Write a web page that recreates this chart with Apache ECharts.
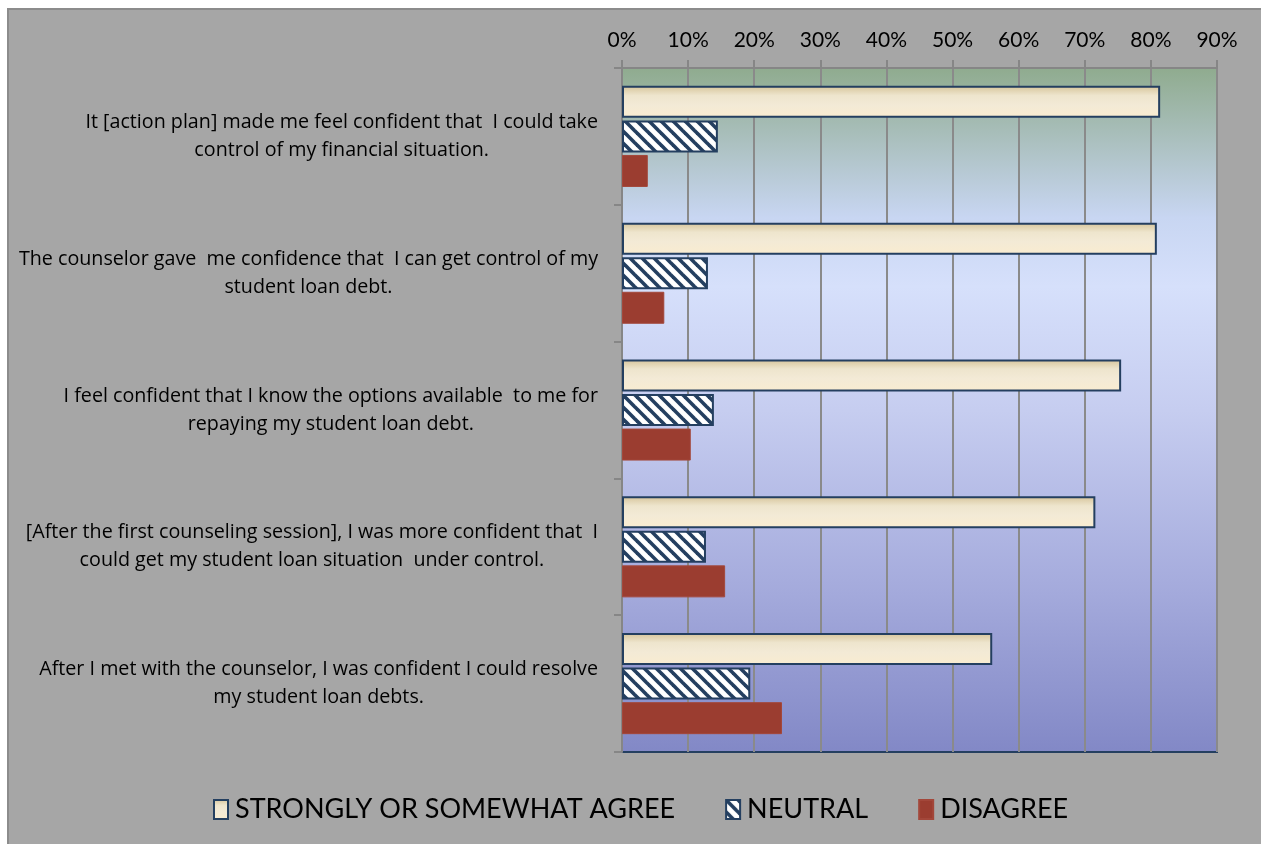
<!DOCTYPE html>
<html>
<head>
<meta charset="utf-8">
<script src="https://cdn.jsdelivr.net/npm/echarts@6/dist/echarts.min.js"></script>
<style>
html,body{margin:0;padding:0;background:#fff;}
#chart{width:1261px;height:844px;}
</style>
</head>
<body>
<div id="chart"></div>
<script>
const categories = [
  "It [action plan] made me feel confident that  I could take\ncontrol of my financial situation.",
  "The counselor gave  me confidence that  I can get control of my\nstudent loan debt.",
  "I feel confident that I know the options available  to me for\nrepaying my student loan debt.",
  "[After the first counseling session], I was more confident that  I\ncould get my student loan situation  under control.",
  "After I met with the counselor, I was confident I could resolve\nmy student loan debts."
];
const seriesNames = ["STRONGLY OR SOMEWHAT AGREE", "NEUTRAL", "DISAGREE"];
const agreeValues = [81.4, 80.9, 75.5, 71.6, 56.0];
const neutralValues = [14.5, 13.0, 13.9, 12.7, 19.4];
const disagreeValues = [3.9, 6.4, 10.4, 15.6, 24.2];
const tickValues = [0, 10, 20, 30, 40, 50, 60, 70, 80, 90];

const FONT = 'Lato';
const LABEL_FONT = 'Open Sans';
const NAVY = '#243f60';

// hatch pattern
const pc = document.createElement('canvas');
pc.width = 12; pc.height = 12;
const g = pc.getContext('2d');
g.fillStyle = '#ffffff'; g.fillRect(0, 0, 12, 12);
g.strokeStyle = NAVY; g.lineWidth = 3.6;
for (const off of [-12, 0, 12]) {
  g.beginPath(); g.moveTo(off - 2, -2); g.lineTo(off + 14, 14); g.stroke();
}

const chart = echarts.init(document.getElementById('chart'));
chart.setOption({
  backgroundColor: '#ffffff',
  animation: false,
  graphic: [{
    type: 'rect', z: -10, silent: true,
    shape: { x: 8, y: 9, width: 1260, height: 840 },
    style: { fill: '#a6a6a6', stroke: '#8c8c8c', lineWidth: 2 }
  }],
  grid: {
    left: 622, right: 44, top: 68, bottom: 92,
    show: true,
    borderColor: NAVY, borderWidth: 2,
    backgroundColor: {
      type: 'linear', x: 0, y: 0, x2: 0, y2: 1,
      colorStops: [
        { offset: 0, color: '#8fab8e' },
        { offset: 0.22, color: '#c8d6f2' },
        { offset: 0.32, color: '#d6e0fb' },
        { offset: 0.5, color: '#c6cdf0' },
        { offset: 0.75, color: '#a6acdd' },
        { offset: 1, color: '#8288c6' }
      ]
    }
  },
  legend: {
    bottom: 16, left: 208,
    itemWidth: 14, itemHeight: 19, itemGap: 50,
    icon: 'rect',
    textStyle: { fontFamily: FONT, fontSize: 27, color: '#000', padding: [0, 0, 0, 2] },
    data: seriesNames
  },
  xAxis: {
    type: 'value', position: 'top',
    min: tickValues[0], max: tickValues[tickValues.length - 1], interval: 10,
    axisLine: { show: true, lineStyle: { color: '#868686', width: 2 } },
    axisTick: { show: true, inside: false, length: 8, lineStyle: { color: '#868686', width: 2 } },
    splitLine: { show: true, lineStyle: { color: '#8a8a8a', width: 2 } },
    axisLabel: { formatter: '{value}%', fontFamily: FONT, fontSize: 21, color: '#000', margin: 17 }
  },
  yAxis: {
    type: 'category', inverse: true,
    data: categories,
    axisLine: { show: true, lineStyle: { color: '#868686', width: 2 } },
    axisTick: { show: true, length: 8, lineStyle: { color: '#868686', width: 2 } },
    axisLabel: {
      margin: 24, align: 'right',
      formatter: v => v.split('\n').map(l => '{c|' + l + '}').join('\n'),
      rich: { c: { align: 'center', fontFamily: LABEL_FONT, fontSize: 19.7, lineHeight: 28, color: '#000' } }
    }
  },
  series: [
    {
      name: seriesNames[0], type: 'bar', data: agreeValues,
      barWidth: 32, barGap: '8%',
      itemStyle: {
        borderColor: NAVY, borderWidth: 2,
        color: {
          type: 'linear', x: 0, y: 0, x2: 0, y2: 1,
          colorStops: [
            { offset: 0, color: '#d6c49a' },
            { offset: 0.3, color: '#eee5cd' },
            { offset: 0.6, color: '#f3ead6' },
            { offset: 1, color: '#f9ecd0' }
          ]
        }
      }
    },
    {
      name: seriesNames[1], type: 'bar', data: neutralValues,
      barWidth: 32, barGap: '8%',
      itemStyle: { borderColor: NAVY, borderWidth: 2, color: { image: pc, repeat: 'repeat' } }
    },
    {
      name: seriesNames[2], type: 'bar', data: disagreeValues,
      barWidth: 32, barGap: '8%',
      itemStyle: { color: '#9b3d30', borderColor: '#a3473a', borderWidth: 1 }
    }
  ]
});
</script>
</body>
</html>
